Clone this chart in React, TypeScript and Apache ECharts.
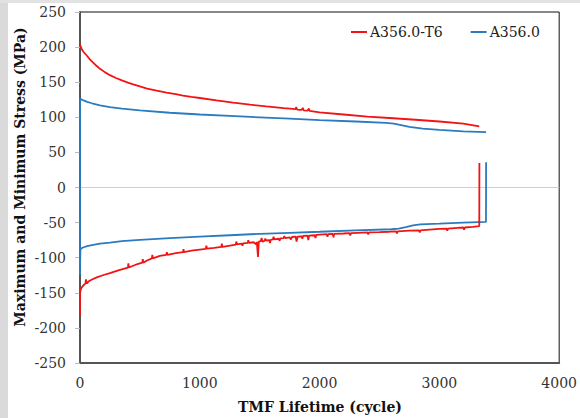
import React, { useEffect, useRef } from "react";
import * as echarts from "echarts";

const seriesNames = ["A356.0-T6", "A356.0"];
const xTicks = [0, 1000, 2000, 3000, 4000];
const yTicks = [-250, -200, -150, -100, -50, 0, 50, 100, 150, 200, 250];

// A356.0-T6 maximum stress [cycle, MPa]
const t6Max: number[][] = [
  [0, 204], [5, 201], [15, 197], [30, 193], [56, 188], [80, 183], [110, 178],
  [140, 173], [167, 169], [210, 164], [250, 160], [300, 156], [350, 152.5],
  [400, 149.5], [444, 147], [500, 144], [560, 141], [640, 138], [722, 135],
  [800, 133], [860, 131], [930, 129], [1000, 127.5], [1140, 124], [1278, 121],
  [1420, 118], [1556, 115.5], [1700, 113], [1800, 111.5], [1805, 114.5],
  [1812, 111], [1850, 110.5], [1860, 113.5], [1866, 110], [1900, 109.5],
  [1910, 112.5], [1916, 109], [2000, 107], [2200, 104], [2400, 101], [2583, 99],
  [2800, 96.5], [3000, 94], [3200, 91], [3333, 87],
];

// A356.0-T6 minimum stress [cycle, MPa]
const t6Min: number[][] = [
  [0, -183], [1, -150], [5, -146], [12, -143], [25, -140], [45, -137], [50, -131],
  [55, -137], [70, -134], [100, -131], [140, -128], [190, -125], [250, -122],
  [320, -118], [400, -114], [404, -108], [408, -114], [480, -109], [520, -107],
  [524, -102], [528, -107], [560, -104], [600, -101], [604, -96], [608, -101],
  [667, -97.5], [720, -96], [725, -92], [730, -96], [800, -93.5], [860, -92],
  [864, -88], [868, -92], [930, -90], [1000, -88.5], [1050, -87.5], [1055, -83],
  [1060, -87], [1120, -86], [1180, -84.5], [1184, -80], [1188, -84.5], [1240, -83],
  [1278, -82], [1300, -81.5], [1305, -77], [1310, -81], [1350, -80], [1356, -83],
  [1362, -79.5], [1400, -79], [1405, -75], [1410, -79], [1450, -78], [1470, -81],
  [1476, -77.5], [1486, -99], [1492, -77.5], [1510, -76], [1516, -72], [1522, -77],
  [1540, -76], [1546, -73], [1556, -75.5], [1580, -75], [1586, -79], [1592, -74.5],
  [1610, -74], [1616, -70], [1622, -74], [1660, -73], [1666, -76], [1672, -72.5],
  [1700, -72], [1706, -69], [1712, -72], [1750, -71], [1760, -74], [1770, -70.5],
  [1800, -70], [1808, -77], [1816, -70], [1850, -69.5], [1856, -73], [1862, -69],
  [1900, -68.5], [1906, -75], [1912, -68.5], [1960, -68], [1966, -72], [1972, -67.5],
  [2000, -67], [2060, -66.5], [2066, -70], [2072, -66.5], [2110, -66], [2116, -71],
  [2122, -66], [2200, -65.5], [2250, -65], [2256, -68.5], [2262, -65], [2320, -64.5],
  [2400, -64], [2406, -67], [2412, -64], [2500, -63.5], [2583, -63], [2640, -62.5],
  [2646, -65.5], [2652, -62.5], [2750, -61.5], [2830, -61], [2836, -64], [2842, -61],
  [2920, -60], [3000, -59], [3060, -58.5], [3066, -61.5], [3072, -58.5], [3150, -57.5],
  [3200, -57], [3206, -60], [3212, -57], [3280, -56], [3333, -55], [3334, 35],
];

// A356.0 maximum stress [cycle, MPa]
const a356Max: number[][] = [
  [0, -124], [1, 127], [10, 125.5], [30, 124], [60, 122], [100, 120], [167, 117],
  [250, 114.5], [350, 112.5], [500, 110], [750, 106.5], [1000, 104], [1250, 102],
  [1500, 100], [1750, 98], [2000, 96], [2300, 94], [2556, 92], [2620, 91],
  [2680, 89], [2750, 86.5], [2861, 84], [3000, 82], [3200, 80], [3390, 79],
];

// A356.0 minimum stress [cycle, MPa]
const a356Min: number[][] = [
  [0, -124], [3, -89], [10, -87], [25, -85.5], [60, -83.5], [100, -82], [167, -80],
  [250, -78.5], [350, -76.5], [500, -74.5], [750, -72], [1000, -70], [1250, -68],
  [1500, -66], [1750, -64.5], [2000, -63], [2300, -61], [2600, -59.5], [2660, -58.5],
  [2720, -56.5], [2780, -54], [2840, -52.5], [3000, -51.5], [3200, -50], [3389, -49],
  [3390, 36],
];

const FONT = "DejaVu Serif";
const RED = "#f21414";
const BLUE = "#2b7bbf";

export default function App() {
  const ref = useRef<HTMLDivElement>(null);
  useEffect(() => {
    if (!ref.current) return;
    const chart = echarts.init(ref.current, undefined, { renderer: "svg" });
    const lineSeries = (name: string, data: number[][], color: string, z: number) => ({
      type: "line",
      name,
      data,
      showSymbol: false,
      symbol: "none",
      lineStyle: { color, width: 1.8 },
      itemStyle: { color },
      z,
    });
    chart.setOption({
      animation: false,
      backgroundColor: "#ffffff",
      graphic: [
        { type: "rect", shape: { x: 0, y: 0, width: 8, height: 418 }, style: { fill: "#dadada" }, z: -10 },
        { type: "rect", shape: { x: 0, y: 0, width: 580, height: 3 }, style: { fill: "#e2e2e2" }, z: -10 },
        {
          type: "text",
          x: 320,
          y: 407,
          style: {
            text: "TMF Lifetime (cycle)",
            font: `bold 14px "${FONT}"`,
            fill: "#111",
            align: "center",
            verticalAlign: "middle",
          },
        },
        {
          type: "text",
          x: 20,
          y: 177,
          rotation: Math.PI / 2,
          style: {
            text: "Maximum and Minimum Stress (MPa)",
            font: `bold 14px "${FONT}"`,
            fill: "#111",
            align: "center",
            verticalAlign: "middle",
          },
        },
      ],
      legend: {
        data: seriesNames,
        left: 346,
        top: 20,
        icon: "rect",
        itemWidth: 16,
        itemHeight: 2,
        itemGap: 28,
        textStyle: { fontFamily: FONT, fontSize: 14, color: "#222", padding: [0, 0, 0, -2] },
      },
      grid: {
        left: 80,
        right: 19.5,
        top: 12,
        bottom: 55,
        show: true,
        borderColor: "#111",
        borderWidth: 1,
        backgroundColor: "#fff",
      },
      xAxis: {
        type: "value",
        min: xTicks[0],
        max: xTicks[xTicks.length - 1],
        interval: 1000,
        axisLine: { show: true, onZero: false, lineStyle: { color: "#555", width: 2 } },
        axisTick: { show: false },
        splitLine: { show: false },
        axisLabel: {
          fontFamily: FONT,
          fontSize: 14,
          color: "#333",
          margin: 13,
          formatter: (v: number) => String(v),
        },
      },
      yAxis: {
        type: "value",
        min: yTicks[0],
        max: yTicks[yTicks.length - 1],
        interval: 50,
        axisLine: { show: true, onZero: false, lineStyle: { color: "#555", width: 2 } },
        axisTick: { show: true, length: 5, lineStyle: { color: "#bbb" } },
        splitLine: { show: false },
        axisLabel: {
          fontFamily: FONT,
          fontSize: 14,
          color: "#333",
          margin: 14,
          formatter: (v: number) => String(v),
        },
      },
      series: [
        {
          ...lineSeries(seriesNames[1], a356Min, BLUE, 3),
          markLine: {
            silent: true,
            symbol: "none",
            label: { show: false },
            lineStyle: { color: "#cfcfcf", width: 1, type: "solid" },
            data: [{ yAxis: 0 }],
            z: 1,
          },
        },
        lineSeries(seriesNames[1], a356Max, BLUE, 3),
        lineSeries(seriesNames[0], t6Min, RED, 4),
        lineSeries(seriesNames[0], t6Max, RED, 4),
      ],
    });
    return () => chart.dispose();
  }, []);
  return (
    <div
      ref={ref}
      style={{ position: "fixed", left: 0, top: 0, width: 580, height: 418 }}
    />
  );
}
